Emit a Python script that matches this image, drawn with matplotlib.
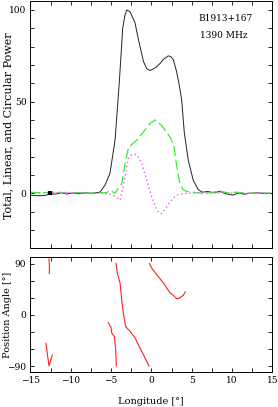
import numpy as np
import matplotlib
matplotlib.use("Agg")
import matplotlib.pyplot as plt
from matplotlib.ticker import MultipleLocator

plt.rcParams['font.family'] = ['DejaVu Serif']
plt.rcParams['font.size'] = 6.5

# total intensity (black)
tot_lon = [-15, -14.5, -13.5, -13.0, -12.6, -12.0, -11.2, -10.5, -9.8, -9.0, -8.2, -7.6, -7.0,
           -6.4, -5.76, -5.14, -4.52, -4.0, -3.57, -3.3, -3.07, -2.66, -2.04, -1.63, -1.0,
           -0.6, -0.19, 0.3, 0.64, 1.1, 1.46, 2.08, 2.4, 2.7, 3.1, 3.4, 3.74, 4.07, 4.56,
           5.18, 5.8, 6.3, 7.0, 7.6, 8.5, 9.2, 10.1, 10.8, 11.5, 12.2, 13.0, 14.0, 15.0]
tot_val = [-1.0, -1.3, -1.3, -1.0, 0.0, -0.5, 0.3, -0.4, 0.2, -0.3, 0.3, 0.0, 0.2,
           0.6, 4.5, 11, 29, 60, 90, 97, 100, 99, 93, 84, 72,
           68, 67, 68, 69, 71, 73, 75, 74.5, 73, 66.5, 60, 51, 33, 18,
           7, 2, 0.6, 1.0, 0.3, 1.0, -0.2, -1.0, 0.2, -0.5, 0.0, 0.3, -0.2, 0.0]

# linear polarisation (green dashed)
lin_lon = [-15, -13.5, -12.0, -10.5, -9.0, -7.6, -6.5, -5.55, -5.14, -4.52, -4.1, -3.7,
           -3.28, -2.87, -2.25, -1.83, -1.0, -0.19, 0.43, 1.26, 2.08, 2.4, 2.8, 3.12, 3.5,
           3.9, 4.36, 5.5, 6.5, 7.5, 8.5, 9.5, 10.5, 12.0, 13.5, 15.0]
lin_val = [0.5, 0.3, 0.6, 0.2, 0.4, 0.0, 0.3, 0.3, 1.8, 0.0, 2.7, 5.0,
           16, 24.6, 27.5, 29, 33.5, 38, 40, 37, 32, 30, 25, 15, 5.5,
           2.0, 1.0, 0.4, 0.0, 0.5, 1.2, 0.2, 0.6, 0.0, 0.3, 0.0]

# circular polarisation (magenta dotted)
circ_lon = [-15, -13.0, -11.0, -9.0, -7.6, -6.0, -5.0, -4.52, -3.9, -3.6, -3.28, -2.87,
            -2.45, -2.1, -1.83, -1.21, -0.6, 0.02, 0.64, 1.05, 1.26, 1.88, 2.5, 3.12,
            3.8, 5.0, 7.0, 9.0, 11.0, 13.0, 15.0]
circ_val = [0.0, 0.3, 0.5, 0.2, 0.0, 0.0, -0.5, -1.8, -3.7, 2.0, 9, 19,
            21, 21.3, 21, 16.4, 7.3, -1.8, -9, -11, -11, -7.3, -3.7, -1.0,
            -0.3, 0.2, 0.0, 0.3, 0.0, 0.2, 0.0]

err_lon = -12.58
err_half = 1.2

# position angle segments (red)
pa_segments = [
    ([-12.72, -12.65, -12.68], [98, 85, 72.5]),
    ([-13.08, -12.9, -12.7, -12.5, -12.3], [-50, -70, -90, -80, -71]),
    ([-5.35, -5.0, -4.94, -4.6, -4.44, -4.36], [-14, -22.8, -31.6, -38.6, -60.8, -90]),
    ([-4.4, -4.24, -3.9, -3.7, -3.5, -3.2, -2.67, -2.46, -2.05, -1.43, -0.81, -0.31],
     [90, 73.6, 56, 27, 3.5, -21, -28.6, -32.7, -40.3, -57.9, -75.4, -90]),
    ([-0.27, 0.02, 0.64, 1.47, 2.29, 2.7, 3.12, 3.53, 3.95, 4.2],
     [90, 82.4, 70.7, 56, 38.6, 34.5, 28, 29.8, 34.5, 40.3]),
]

fig = plt.figure(figsize=(2.78, 4.07), dpi=100)
ax1 = fig.add_axes([0.1097, 0.390, 0.8705, 0.608])
ax2 = fig.add_axes([0.1097, 0.0853, 0.8705, 0.2825])

ax1.plot(tot_lon, tot_val, color='#222222', lw=0.7)
ax1.plot(lin_lon, lin_val, color='#33ee33', lw=0.9, ls=(0, (8, 3)))
ax1.plot(circ_lon, circ_val, color='#ff55ff', lw=1.0, ls=(0, (1, 2)))
ax1.plot([err_lon, err_lon], [-err_half, err_half], color='k', lw=3, solid_capstyle='butt')
ax1.set_xlim(-15, 15)
ax1.set_ylim(-30, 105)
ax1.yaxis.set_major_locator(MultipleLocator(50))
ax1.yaxis.set_minor_locator(MultipleLocator(10))
ax1.tick_params(labelbottom=False)
ax1.text(0.695, 0.92, "B1913+167", transform=ax1.transAxes, fontsize=6.5)
ax1.text(0.7, 0.85, "1390 MHz", transform=ax1.transAxes, fontsize=6.5)

for xs, ys in pa_segments:
    ax2.plot(xs, ys, color='#ff2020', lw=0.8)
ax2.set_xlim(-15, 15)
ax2.set_ylim(-101, 101)
ax2.yaxis.set_major_locator(MultipleLocator(90))
ax2.yaxis.set_minor_locator(MultipleLocator(30))

for ax in (ax1, ax2):
    ax.xaxis.set_major_locator(MultipleLocator(5))
    ax.xaxis.set_minor_locator(MultipleLocator(2.5))
    ax.tick_params(which='both', direction='in', top=True, right=True,
                   length=3, width=0.6, pad=3, labelsize=6.5)
    for s in ax.spines.values():
        s.set_linewidth(0.7)

fig.text(8 / 278, 1 - 126 / 407, "Total, Linear, and Circular Power", rotation=90,
         ha='center', va='center', fontsize=8)
fig.text(8 / 278, 1 - 315 / 407, "Position Angle [°]", rotation=90,
         ha='center', va='center', fontsize=7)
fig.text(151 / 278, 1 - 401 / 407, "Longitude [°]", ha='center', va='center', fontsize=7)

fig.savefig("out.png", dpi=100)
